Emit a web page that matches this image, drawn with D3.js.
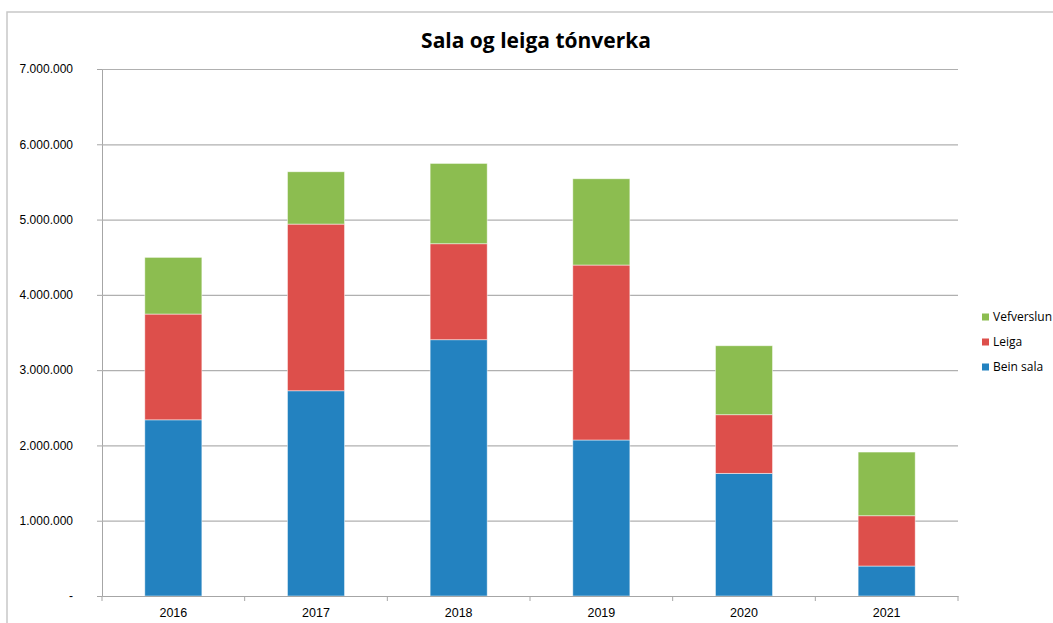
<!DOCTYPE html>
<html>
<head>
<meta charset="utf-8">
<script src="https://cdn.jsdelivr.net/npm/d3@7"></script>
<style>
  body { margin: 0; background: #fff; }
  svg { display: block; font-family: "Open Sans", "Noto Sans", sans-serif; }
</style>
</head>
<body>
<div id="chart"></div>
<script>
// data
const years = ["2016", "2017", "2018", "2019", "2020", "2021"];
const beinSala = [2340000, 2726000, 3404000, 2072000, 1629000, 398000];
const leiga = [1405000, 2214000, 1275000, 2324000, 779000, 668000];
const vefverslun = [753000, 695000, 1067000, 1146000, 916000, 846000];
const seriesNames = ["Bein sala", "Leiga", "Vefverslun"];
const seriesColors = ["#2382c0", "#dd4f4b", "#8cbd50"];
const yTicks = [0, 1000000, 2000000, 3000000, 4000000, 5000000, 6000000, 7000000];

const width = 1053, height = 623;
const margin = {top: 69, right: 95, bottom: 27, left: 102};

const rows = years.map((y, i) => ({year: y, "Bein sala": beinSala[i], "Leiga": leiga[i], "Vefverslun": vefverslun[i]}));
const stacked = d3.stack().keys(seriesNames)(rows);

const x = d3.scaleBand().domain(years).range([margin.left, width - margin.right]).padding(0);
const y = d3.scaleLinear().domain([0, 7000000]).range([height - margin.bottom, margin.top]);
const barW = x.bandwidth() * 0.4;

const fmt = d3.formatLocale({decimal: ",", thousands: ".", grouping: [3], currency: ["", ""]}).format(",");

const svg = d3.select("#chart").append("svg")
  .attr("width", width)
  .attr("height", height);

// frame of the chart area
svg.append("path")
  .attr("d", `M7,${height} V12 H${width}`)
  .attr("fill", "none")
  .attr("stroke", "#c8c8c8")
  .attr("stroke-width", 1.5);

// title
svg.append("text")
  .attr("x", 536)
  .attr("y", 48)
  .attr("text-anchor", "middle")
  .attr("font-size", 21)
  .attr("font-weight", "bold")
  .attr("fill", "#000")
  .text("Sala og leiga tónverka");

// y axis with gridlines
svg.append("g")
  .attr("transform", `translate(${margin.left},0)`)
  .call(d3.axisLeft(y).tickValues(yTicks).tickSize(5).tickPadding(24)
    .tickFormat(d => d === 0 ? "-" : fmt(d)))
  .call(g => g.select(".domain").attr("stroke", "#a6a6a6"))
  .call(g => g.selectAll(".tick line").attr("stroke", "#a6a6a6"))
  .call(g => g.selectAll(".tick text").attr("font-size", 12).attr("fill", "#000"))
  .call(g => g.selectAll(".tick").filter(d => d > 0).append("line")
    .attr("x1", 0).attr("x2", width - margin.right - margin.left)
    .attr("stroke", "#b0b0b0").attr("stroke-width", 1.2));

// bars
svg.append("g")
  .selectAll("g")
  .data(stacked)
  .join("g")
    .attr("fill", (d, i) => seriesColors[i])
  .selectAll("rect")
  .data(d => d)
  .join("rect")
    .attr("x", d => x(d.data.year) + (x.bandwidth() - barW) / 2)
    .attr("y", d => y(d[1]))
    .attr("width", barW)
    .attr("height", d => y(d[0]) - y(d[1]))
    .attr("stroke", "#ffffff")
    .attr("stroke-opacity", 0.6)
    .attr("stroke-width", 0.8);

// x axis, ticks sit between categories like the original
const xAxisG = svg.append("g")
  .attr("transform", `translate(0,${height - margin.bottom})`)
  .call(d3.axisBottom(x).tickSize(0).tickPadding(12))
  .call(g => g.select(".domain").attr("stroke", "#a6a6a6"))
  .call(g => g.selectAll(".tick text").attr("font-size", 12.5).attr("fill", "#000"));

xAxisG.selectAll(".sep")
  .data(years.map(d => x(d)).concat([x(years[years.length - 1]) + x.bandwidth()]))
  .join("line")
    .attr("class", "sep")
    .attr("x1", d => d).attr("x2", d => d)
    .attr("y1", 0).attr("y2", 5)
    .attr("stroke", "#a6a6a6");

// legend (reversed order, top is Vefverslun)
const legend = svg.append("g")
  .attr("transform", "translate(982,317)")
  .selectAll("g")
  .data(seriesNames.slice().reverse())
  .join("g")
    .attr("transform", (d, i) => `translate(0,${i * 25})`);

legend.append("rect")
  .attr("x", 0).attr("y", -3.5)
  .attr("width", 7).attr("height", 7)
  .attr("fill", d => seriesColors[seriesNames.indexOf(d)]);

legend.append("text")
  .attr("x", 11)
  .attr("dy", "0.35em")
  .attr("font-size", 12)
  .attr("fill", "#000")
  .text(d => d);
</script>
</body>
</html>
